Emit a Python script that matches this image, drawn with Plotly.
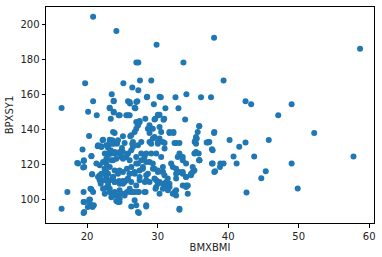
import plotly.graph_objects as go

# BMXBMI (x) and BPXSY1 (y) values
bmi = [
    20.85, 24.15, 29.85, 26.98, 27.26, 33.66, 38.0, 58.7, 39.35, 36.15, 37.57, 42.46, 43.26, 47.1, 49.0,
    19.72, 25.14, 27.49, 29.1, 26.41, 27.26, 23.49, 20.85, 23.77, 25.8, 26.07, 27.12, 28.47, 30.45, 32.53, 34.08,
    16.38, 20.14, 21.37, 23.2, 23.77, 24.48, 25.56, 26.03, 26.84, 29.46, 31.1, 32.95, 30.17, 28.25, 23.35, 29.66, 30.93, 33.9,
    35.9, 38.0, 52.2, 40.2, 37.15, 41.57, 42.46, 45.76, 37.7, 40.76, 43.69, 35.9, 37.7, 38.9, 39.35, 38.84, 41.2, 38.14, 49.0, 57.77, 45.33, 44.7, 49.86, 42.6,
    23.2, 23.58, 23.9, 23.77, 23.34, 22.97, 24.24, 23.44, 23.9, 24.6, 25.08, 24.94, 25.32, 25.08, 26.12, 26.4, 26.26, 25.56, 24.85, 24.14,
    23.44, 22.73, 22.5, 22.26, 21.79, 22.73, 22.0, 23.2, 23.67, 23.9, 24.52, 25.08, 25.79, 26.03, 25.65, 26.73, 27.44, 27.2, 26.97, 27.67,
    28.14, 28.38, 28.85, 29.32, 27.9, 28.38, 28.85, 28.19, 29.56, 30.03, 29.56, 30.26, 30.73, 31.2, 31.68, 31.44, 30.97, 30.73, 31.91, 32.62,
    33.09, 32.62, 33.56, 34.03, 34.27, 33.56, 34.03, 33.56, 35.21, 34.74, 34.97, 35.91, 35.44, 35.82, 32.85, 32.15, 32.62, 22.73, 23.2, 23.44,
    23.9, 24.14, 24.6, 25.08, 25.65, 26.12, 26.73, 27.34, 28.29, 26.26, 27.34, 28.38, 29.79, 29.7, 33.09, 34.03, 22.97, 22.5, 22.73, 21.79,
    21.55, 21.79, 24.6, 25.08, 25.32, 26.26, 26.97, 27.44, 24.6, 24.38, 22.26, 21.93,
    20.28, 22.2, 21.5, 22.0, 19.35, 20.6, 19.53, 18.6, 19.44, 20.7, 17.2, 16.38, 19.5, 20.6, 20.4, 20.6, 20.1, 19.5, 19.5, 20.95,
    26.97, 27.44, 27.2, 28.85, 29.32, 35.9, 32.24, 31.68, 35.44, 35.25, 36.95,
    23.77, 23.2, 23.77, 24.62, 25.8, 26.03, 26.97, 26.74, 28.52, 30.27, 30.03, 29.56, 27.44, 27.2, 26.97, 26.74, 28.62, 28.85, 29.56, 29.32,
    30.27, 23.68, 23.2, 24.38, 26.26, 26.5, 27.68, 28.85, 30.03,
    22.74, 23.44, 23.91, 24.62, 22.97, 23.68, 22.5, 23.21, 22.97, 23.91, 24.38, 23.68, 22.97, 23.91, 24.62, 23.21, 23.44, 23.91, 24.62, 24.38,
    25.09, 25.56, 26.03, 26.5, 27.21, 28.15, 26.74, 26.97, 27.21, 28.39, 25.32, 26.03, 26.74, 26.27, 26.97, 27.68, 27.91, 28.39, 29.09, 29.8,
    30.03, 29.09, 27.21, 26.5, 25.8, 25.09, 26.03, 28.62, 29.33, 30.03, 29.8, 30.03, 28.39, 27.45, 30.74, 30.5,
    30.74, 32.62, 30.98, 33.09, 33.56, 35.45, 37.33, 37.8, 35.21, 35.92, 37.8, 38.04, 32.15, 30.74, 32.62, 33.56, 34.03, 34.74, 34.97, 31.21,
    31.68, 30.74, 31.45, 32.39, 32.62, 34.03, 34.27, 33.09, 30.27,
    30.27, 30.83, 30.27, 30.5, 31.68, 32.24, 35.68, 38.04, 35.35, 35.55, 37.23, 30.98, 32.39, 33.09,
    21.56, 22.03, 18.74, 19.54, 19.59, 20.62, 21.32, 22.26, 22.5, 22.03, 21.79, 22.5, 22.73, 22.97, 22.5, 20.72,
    19.58, 19.58, 20.47, 20.85, 20.29, 20.38, 20.76, 22.26,
]
sbp = [
    204.3, 196.1, 188.3, 178.2, 178.2, 178.2, 192.3, 186.0, 167.9, 158.3, 158.3, 156.0, 154.2, 148.0, 154.2,
    166.3, 166.3, 167.9, 167.9, 163.8, 162.3, 160.0, 156.0, 156.0, 156.0, 154.7, 156.0, 158.3, 158.3, 158.3, 160.0,
    152.1, 149.9, 148.0, 152.0, 149.9, 148.0, 148.0, 148.0, 152.0, 154.2, 152.0, 152.0, 148.0, 146.0, 146.0, 146.0, 146.0, 145.5,
    141.8, 137.8, 137.8, 133.8, 132.3, 130.0, 132.3, 133.8, 128.5, 124.3, 124.3, 122.2, 120.3, 120.3, 120.3, 118.3, 120.3, 115.9, 120.3, 124.3, 115.9, 111.9, 106.1, 103.8,
    132.7, 133.6, 137.8, 131.7, 127.9, 129.4, 131.7, 126.0, 126.0, 126.0, 126.9, 129.2, 132.1, 135.9, 135.9, 131.7, 127.9, 124.1, 124.1, 123.1,
    122.2, 120.3, 117.4, 114.5, 113.6, 112.6, 110.7, 110.7, 112.6, 109.7, 110.3, 110.3, 111.7, 114.5, 117.4, 115.5, 116.4, 120.3, 124.1, 126.0,
    124.1, 121.2, 121.2, 120.3, 117.4, 113.6, 109.7, 109.7, 117.4, 116.4, 111.7, 109.7, 108.8, 107.8, 106.9, 111.7, 113.6, 115.5, 120.3, 117.4,
    115.5, 111.7, 114.5, 112.6, 107.8, 107.8, 120.3, 122.2, 116.4, 114.5, 118.3, 122.2, 126.9, 126.0, 124.1, 103.1, 105.0, 106.5, 104.0, 101.1,
    104.0, 98.9, 98.3, 103.1, 104.0, 104.0, 104.0, 104.0, 104.0, 95.8, 92.0, 95.8, 106.9, 105.9, 93.9, 106.9, 126.0, 126.0, 123.1, 119.3,
    112.6, 110.7, 116.4, 115.5, 109.7, 109.7, 107.8, 110.7, 105.0, 102.1, 105.9, 108.8,
    136.1, 133.6, 130.2, 130.2, 128.3, 124.5, 121.8, 120.6, 118.0, 114.2, 104.0, 94.5, 104.0, 105.6, 99.7, 96.4, 95.4, 98.3, 92.0, 96.4,
    144.1, 144.7, 142.2, 142.2, 140.3, 141.7, 137.8, 137.8, 135.5, 132.7, 132.3,
    156.2, 152.3, 149.5, 148.0, 148.0, 155.6, 155.6, 152.3, 158.5, 158.5, 148.3, 145.5, 144.0, 142.2, 140.3, 138.4, 140.3, 137.8, 135.5, 134.6,
    134.6, 138.4, 134.0, 133.6, 136.5, 132.7, 132.7, 132.7, 132.7,
    130.8, 131.7, 126.9, 126.9, 125.0, 122.2, 121.2, 118.4, 114.5, 116.4, 114.5, 112.6, 109.8, 109.8, 108.8, 105.9, 103.1, 102.1, 100.2, 98.3,
    108.8, 110.7, 105.9, 104.0, 104.0, 104.0, 99.3, 96.4, 92.6, 96.4, 102.1, 114.5, 114.5, 118.4, 120.3, 122.2, 118.4, 126.0, 126.0, 126.0,
    131.7, 131.7, 130.8, 129.8, 126.0, 123.1, 122.2, 114.5, 117.4, 115.5, 110.7, 108.8, 110.7, 112.6, 118.4, 124.1,
    132.7, 132.1, 128.9, 126.0, 124.1, 131.7, 132.7, 127.9, 126.0, 122.2, 120.3, 115.5, 118.4, 115.5, 114.5, 115.5, 112.6, 113.6, 115.5, 109.8,
    108.8, 105.9, 105.0, 104.0, 102.1, 107.8, 103.1, 94.5, 103.1,
    148.3, 145.4, 141.3, 138.4, 138.4, 138.4, 138.4, 138.4, 133.6, 134.6, 132.7, 132.1, 132.1, 132.1,
    130.8, 129.8, 120.3, 122.2, 118.4, 124.7, 120.3, 121.2, 117.4, 114.5, 112.6, 110.7, 115.5, 107.9, 103.1, 114.2,
    98.3, 92.6, 105.9, 104.0, 99.6, 97.3, 95.4, 134.0,
]

x_ticks = [20, 30, 40, 50, 60]
y_ticks = [100, 120, 140, 160, 180, 200]

fig = go.Figure(go.Scatter(
    x=bmi, y=sbp, mode="markers",
    marker=dict(color="#1f77b4", size=6, line=dict(width=0)),
))

axis_common = dict(
    showgrid=False, zeroline=False, showline=True, mirror=True,
    linecolor="black", linewidth=1, ticks="outside", ticklen=3.5,
    tickwidth=1, tickcolor="black",
    tickfont=dict(family="DejaVu Sans", size=10, color="#222"),
)
fig.update_layout(
    width=382, height=257,
    margin=dict(l=46, r=6, t=7, b=34),
    paper_bgcolor="white", plot_bgcolor="white",
    showlegend=False,
    font=dict(family="DejaVu Sans", size=10, color="#222"),
    xaxis=dict(range=[14.17, 60.68], tickvals=x_ticks,
               title=dict(text="BMXBMI", standoff=2, font=dict(size=10)),
               **axis_common),
    yaxis=dict(range=[86.3, 209.9], tickvals=y_ticks,
               title=dict(text="BPXSY1", standoff=4, font=dict(size=10)),
               **axis_common),
)

fig.write_html("out.html")
